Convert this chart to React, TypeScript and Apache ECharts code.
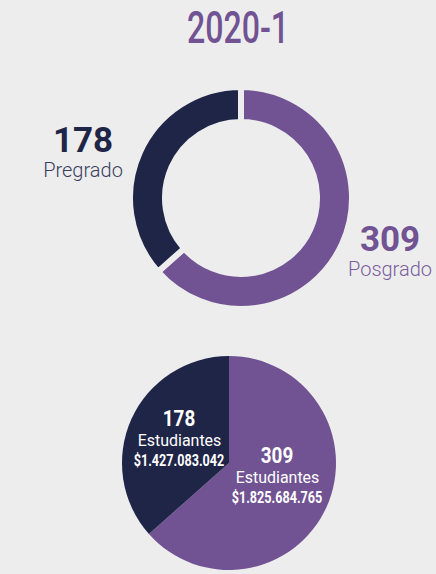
import React, { useEffect, useRef } from "react";
import * as echarts from "echarts";

const periodTitle = "2020-1";
const levels = ["Posgrado", "Pregrado"];
const students = [309, 178];
const amounts = ["$1.825.684.765", "$1.427.083.042"];
const unitLabel = "Estudiantes";

const DARK = "#1f2547";
const PURPLE = "#715393";
const BG = "#ededed";

export default function App() {
  const ref = useRef<HTMLDivElement>(null);
  useEffect(() => {
    document.body.style.margin = "0";
    const chart = echarts.init(ref.current!, null, { renderer: "svg" });
    const colors = [PURPLE, DARK];
    const donutPos = [
      { x: 390, y: 254 },
      { x: 83, y: 155 },
    ];
    // anchor of each bottom-pie label block (centre x, centre y of first line)
    const pieLabelPos = [
      { x: 277, y: 455 },
      { x: 179, y: 418 },
    ];
    const txt = (text: string, x: number, y: number, size: number, weight: any, sx: number) => ({
      type: "text",
      x,
      y,
      z: 100,
      scaleX: sx,
      silent: true,
      style: {
        text,
        align: "center",
        verticalAlign: "middle",
        fontFamily: "Roboto",
        fontWeight: weight,
        fontSize: size,
        fill: "#ffffff",
      },
    });
    const pieTexts: any[] = [];
    levels.forEach((_, i) => {
      const p = pieLabelPos[i];
      pieTexts.push(txt(String(students[i]), p.x, p.y, 22.5, "bold", 0.84));
      pieTexts.push(txt(unitLabel, p.x + 0.5, p.y + 22, 17, "normal", 0.94));
      pieTexts.push(txt(amounts[i], p.x, p.y + 42, 16.5, "bold", 0.765));
    });
    chart.setOption({
      animation: false,
      backgroundColor: BG,
      graphic: [
        {
          type: "text",
          x: 238,
          y: 28,
          scaleX: 0.73,
          style: {
            text: periodTitle,
            align: "center",
            verticalAlign: "middle",
            fontFamily: "Roboto",
            fontWeight: 500,
            fontSize: 44,
            fill: PURPLE,
          },
        },
        ...pieTexts,
      ],
      series: [
        {
          type: "pie",
          center: [241, 198],
          radius: [76, 111],
          startAngle: 90,
          clockwise: true,
          avoidLabelOverlap: false,
          silent: true,
          itemStyle: { borderColor: BG, borderWidth: 6 },
          labelLine: { show: false },
          label: {
            show: true,
            position: "outside",
            formatter: (p: any) => `{n|${p.value}}\n{l|${p.name}}`,
          },
          labelLayout: (p: any) => ({
            x: donutPos[p.dataIndex].x,
            y: donutPos[p.dataIndex].y,
            align: "center",
            verticalAlign: "middle",
          }),
          data: levels.map((name, i) => ({
            name,
            value: students[i],
            itemStyle: { color: colors[i] },
            label: {
              rich: {
                n: {
                  fontFamily: "Roboto",
                  fontSize: 35,
                  fontWeight: "bold",
                  color: i === 0 ? PURPLE : DARK,
                  lineHeight: 30,
                  align: "center",
                },
                l: {
                  fontFamily: "Roboto",
                  fontWeight: 300,
                  fontSize: 20,
                  color: i === 0 ? "#7a5e9e" : "#3a3f5e",
                  lineHeight: 30,
                  align: "center",
                },
              },
            },
          })),
        },
        {
          type: "pie",
          center: [229, 463],
          radius: [0, 107],
          startAngle: 90,
          clockwise: true,
          silent: true,
          label: { show: false },
          labelLine: { show: false },
          data: levels.map((name, i) => ({
            name,
            value: students[i],
            itemStyle: { color: colors[i] },
          })),
        },
      ],
    });
    return () => chart.dispose();
  }, []);
  return <div ref={ref} style={{ width: 436, height: 574 }} />;
}
